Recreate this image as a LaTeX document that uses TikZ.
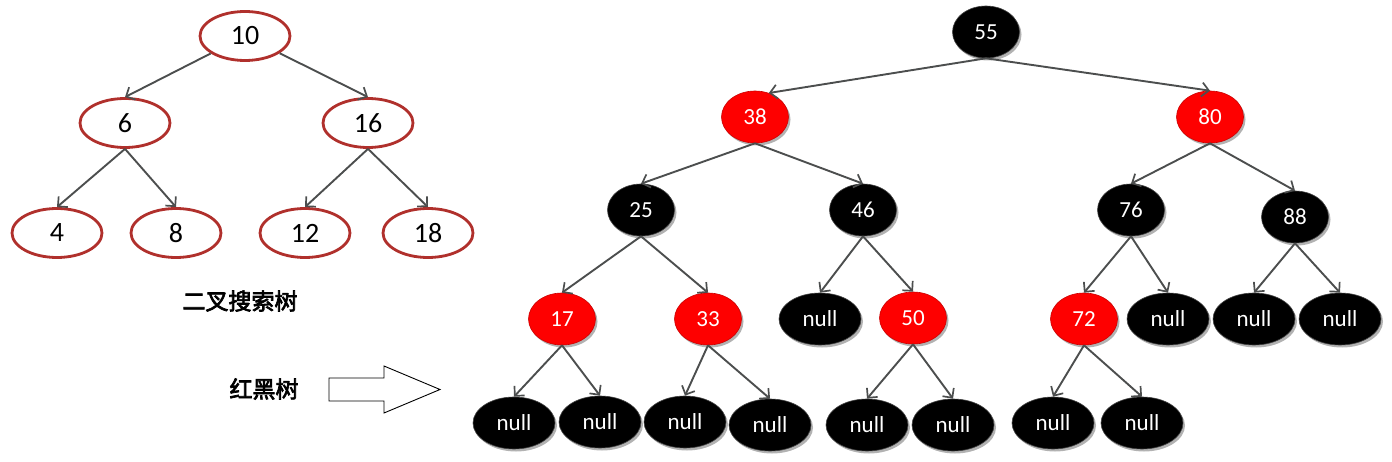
\documentclass[tikz,border=0pt]{standalone}
\usepackage{fontspec}
\setmainfont{Carlito}
\newfontfamily\cjk[FakeBold=3]{Noto Sans CJK SC}
\usetikzlibrary{shapes.geometric,arrows.meta,shadows}
\definecolor{edgegray}{HTML}{4C4E4E}
\definecolor{bstred}{HTML}{B0302C}
\definecolor{rbred}{HTML}{FE0000}
\tikzset{
  edge/.style={draw=edgegray, line width=1.9pt, -{Straight Barb[length=7pt,width=14pt,line width=1.7pt]}},
  bst/.style={ellipse, draw=bstred, line width=2.8pt, fill=white, minimum width=90pt, minimum height=49pt, inner sep=0pt, font=\fontsize{28}{31}\selectfont},
  rbbase/.style={ellipse, inner sep=0pt, minimum height=52pt, text=white, font=\fontsize{23}{26}\selectfont,
     drop shadow={shadow xshift=2pt, shadow yshift=-2.5pt, opacity=0.3, fill=black}},
  rn/.style={rbbase, minimum width=67pt, fill=rbred, draw=rbred!80!black, line width=0.6pt},
  bn/.style={rbbase, minimum width=67pt, fill=black, draw=black!75, line width=0.6pt},
  nl/.style={rbbase, minimum width=82pt, fill=black, draw=black!75, line width=0.6pt},
  cjklabel/.style={font=\cjk\fontsize{23}{26}\selectfont, inner sep=0pt},
  blockarrow/.style={draw=black, line width=0.9pt, fill=white}
}
\begin{document}
\begin{tikzpicture}[x=1pt,y=-1pt]
\useasboundingbox (0,0) rectangle (1392,462);
% binary search tree
\node[bst] (b10) at (245,36) {10};
\node[bst] (b6) at (125,123) {6};
\node[bst] (b16) at (368,123) {16};
\node[bst] (b4) at (57,233) {4};
\node[bst] (b8) at (176,233) {8};
\node[bst] (b12) at (305,233) {12};
\node[bst] (b18) at (428,233) {18};
\draw[edge] (b10) -- (b6.north);
\draw[edge] (b10) -- (b16.north);
\draw[edge] (b6.south) -- (b4.north);
\draw[edge] (b6.south) -- (b8.north);
\draw[edge] (b16.south) -- (b12.north);
\draw[edge] (b16.south) -- (b18.north);
\node[cjklabel] (lbst) at (240,301) {二叉搜索树};
\node[cjklabel] (lrb) at (264,389) {红黑树};
% block arrow
\draw[blockarrow] (329,378) -- (384,378) -- (384,366) -- (440,389.5) -- (384,413) -- (384,401) -- (329,401) -- cycle;
% red-black tree
\node[bn] (r55) at (986,32) {55};
\node[rn] (r38) at (755,117) {38};
\node[rn] (r80) at (1210,117) {80};
\node[bn] (r25) at (641,210) {25};
\node[bn] (r46) at (863,210) {46};
\node[bn] (r76) at (1131,210) {76};
\node[bn] (r88) at (1295,217) {88};
\node[rn] (r17) at (562,319) {17};
\node[rn] (r33) at (708,319) {33};
\node[nl] (n46l) at (820,319) {null};
\node[rn] (r50) at (913,318) {50};
\node[rn] (r72) at (1084,319) {72};
\node[nl] (n76r) at (1168,319) {null};
\node[nl] (n88l) at (1254,319) {null};
\node[nl] (n88r) at (1340,319) {null};
\node[nl] (n17l) at (514,423) {null};
\node[nl] (n17r) at (600,422) {null};
\node[nl] (n33l) at (685,422) {null};
\node[nl] (n33r) at (770,425) {null};
\node[nl] (n50l) at (867,425) {null};
\node[nl] (n50r) at (953,425) {null};
\node[nl] (n72l) at (1053,423) {null};
\node[nl] (n72r) at (1142,423) {null};
\draw[edge] (r55.south) -- (r38.60);
\draw[edge] (r55.south) -- (r80.north);
\draw[edge] (r38.south) -- (r25.north);
\draw[edge] (r38.south) -- (r46.north);
\draw[edge] (r80.south) -- (r76.north);
\draw[edge] (r80.south) -- (r88.north);
\draw[edge] (r25.south) -- (r17.north);
\draw[edge] (r25.south) -- (r33.north);
\draw[edge] (r46.south) -- (n46l.north);
\draw[edge] (r46.south) -- (r50.north);
\draw[edge] (r76.south) -- (r72.north);
\draw[edge] (r76.south) -- (n76r.north);
\draw[edge] (r88.south) -- (n88l.north);
\draw[edge] (r88.south) -- (n88r.north);
\draw[edge] (r17.south) -- (n17l.north);
\draw[edge] (r17.south) -- (n17r.north);
\draw[edge] (r33.south) -- (n33l.north);
\draw[edge] (r33.south) -- (n33r.north);
\draw[edge] (r50.south) -- (n50l.north);
\draw[edge] (r50.south) -- (n50r.north);
\draw[edge] (r72.south) -- (n72l.north);
\draw[edge] (r72.south) -- (n72r.north);
\end{tikzpicture}
\end{document}
